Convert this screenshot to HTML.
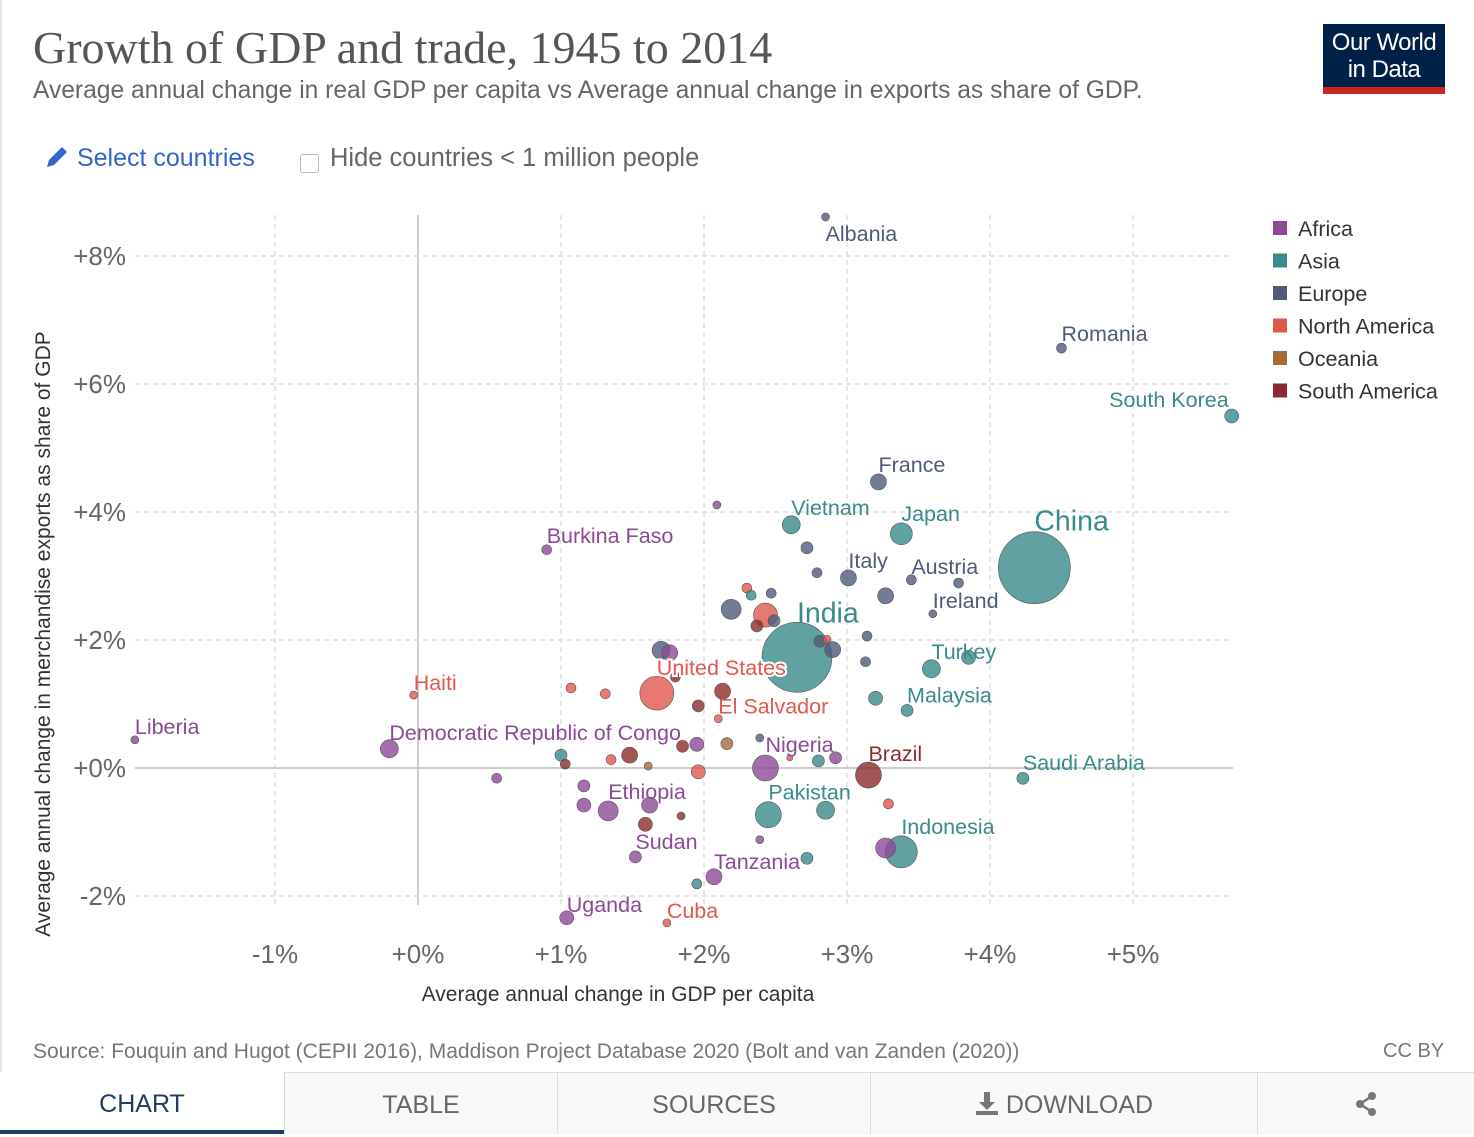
<!DOCTYPE html>
<html><head><meta charset="utf-8">
<style>
body{margin:0;width:1474px;height:1134px;background:#fff;font-family:"Liberation Sans",sans-serif;position:relative;overflow:hidden}
.abs{position:absolute}
.tab{position:absolute;top:1072px;height:62px;background:#f7f8fa;border-left:1px solid #ddd;border-top:1px solid #ddd;box-sizing:border-box;color:#666;font-size:25px;text-align:center;line-height:64px}
</style></head><body>
<div class="abs" style="left:0;top:0;width:2px;height:1134px;background:#e5e5e5"></div>
<div class="abs" style="left:33px;top:21px;font-family:'Liberation Serif',serif;font-size:46px;color:#555">Growth of GDP and trade, 1945 to 2014</div>
<div class="abs" style="left:33px;top:77px;font-size:24.6px;color:#666">Average annual change in real GDP per capita vs Average annual change in exports as share of GDP.</div>
<div class="abs" style="left:1323px;top:24px;width:122px;height:70px;background:#002147;color:#fff;font-size:24px;line-height:27px;text-align:center;box-sizing:border-box;padding-top:5px;letter-spacing:-0.5px">Our World<br>in Data<div style="position:absolute;left:0;bottom:0;width:122px;height:7px;background:#ce261e"></div></div>
<div class="abs" style="left:44px;top:144px;font-size:25px;color:#3366cc">
<svg width="26" height="26" viewBox="0 0 26 26" style="vertical-align:-4px"><path d="M3 23 L5 16 L18 3 L23 8 L10 21 Z" fill="#3366cc"/></svg> Select countries</div>
<div class="abs" style="left:300px;top:154px;width:17px;height:17px;border:1px solid #bbb;border-radius:3px;background:#fff"></div>
<div class="abs" style="left:330px;top:144px;font-size:25.5px;color:#666">Hide countries &lt; 1 million people</div>

<svg id="chart" class="abs" style="left:0;top:0" width="1474" height="1040"></svg>

<div class="abs" style="left:33px;top:1040px;font-size:21px;color:#777">Source: Fouquin and Hugot (CEPII 2016), Maddison Project Database 2020 (Bolt and van Zanden (2020))</div>
<div class="abs" style="left:1383px;top:1040px;font-size:20px;color:#777">CC BY</div>
<div class="tab" style="left:0;width:284px;background:#fff;color:#1d3d63;border-left:none;border-top:none;border-bottom:4px solid #1d3d63">CHART</div>
<div class="tab" style="left:284px;width:273px">TABLE</div>
<div class="tab" style="left:557px;width:313px">SOURCES</div>
<div class="tab" style="left:870px;width:387px"><svg width="24" height="26" viewBox="0 0 24 26" style="vertical-align:-3px"><path d="M9 2h6v10h5l-8 8-8-8h5z" fill="#777"/><rect x="1" y="21" width="22" height="4" fill="#777"/></svg> DOWNLOAD</div>
<div class="tab" style="left:1257px;width:217px"><svg width="26" height="26" viewBox="0 0 26 26" style="vertical-align:-4px"><circle cx="19" cy="5" r="4" fill="#777"/><circle cx="7" cy="13" r="4" fill="#777"/><circle cx="19" cy="21" r="4" fill="#777"/><path d="M19 5 L7 13 L19 21" stroke="#777" stroke-width="2.5" fill="none"/></svg></div>

<script>
const xTicks=[-1,0,1,2,3,4,5];
const yTicks=[-2,0,2,4,6,8];
const regions=["Africa","Asia","Europe","North America","Oceania","South America"];
const regionColors=["#8c4a96","#3a8a8a","#4f5b7c","#e0584e","#a5693a","#8b2c2c"];
const names=["Albania","Romania","South Korea","France","Vietnam","Japan","China","Italy","Austria","Ireland","Burkina Faso","India","Turkey","","Malaysia","","United States","Haiti","Liberia","Democratic Republic of Congo","El Salvador","Nigeria","Brazil","Saudi Arabia","Pakistan","","Ethiopia","","Indonesia","","Sudan","Tanzania","Uganda","Cuba",
"","","","","","","","","","","","","","","","","","","","","","","","","","","","","","","","","","","","","","","","","","","","","","",""];
const gdp=[2.85,4.50,5.69,3.22,2.61,3.38,4.31,3.01,3.45,3.60,0.90,2.65,3.59,3.85,3.42,3.20,1.67,-0.03,-1.98,-0.20,2.10,2.43,3.15,4.23,2.45,2.85,1.33,1.62,3.38,3.27,1.52,2.07,1.04,1.74,
2.09,2.72,2.79,2.30,2.33,2.47,2.19,2.43,2.49,2.37,3.27,3.78,3.14,2.86,2.81,2.90,3.13,1.70,1.76,1.80,1.07,1.31,2.13,1.96,2.16,2.39,1.95,1.85,1.48,1.35,1.00,1.03,1.61,1.96,2.60,2.80,2.92,0.55,1.16,1.16,1.59,1.84,2.39,2.72,1.95,3.29];
const exports_=[8.61,6.56,5.50,4.47,3.80,3.66,3.13,2.97,2.94,2.41,3.41,1.73,1.55,1.73,0.90,1.09,1.17,1.14,0.44,0.30,0.77,0.00,-0.11,-0.16,-0.73,-0.66,-0.67,-0.58,-1.31,-1.25,-1.39,-1.70,-2.34,-2.42,
4.11,3.44,3.05,2.81,2.70,2.73,2.48,2.39,2.30,2.22,2.69,2.89,2.06,2.01,1.98,1.85,1.66,1.84,1.80,1.42,1.25,1.16,1.20,0.97,0.38,0.47,0.37,0.34,0.20,0.13,0.20,0.06,0.03,-0.06,0.16,0.11,0.16,-0.16,-0.28,-0.58,-0.88,-0.75,-1.12,-1.41,-1.81,-0.56];
const radius=[4,5,7,8,9,11,36,8,5,4,5,35,9,7,6,7,17,4,4,9,4,13,13,6,13,9,10,8,16,10,6,8,7,4,
4,6,5,5,5,5,10,12,6,6,8,5,5,4,6,8,5,9,8,5,5,5,8,6,6,4,7,6,8,5,6,5,4,7,3,6,6,5,6,7,7,4,4,6,5,5];
const regionIdx=[2,2,1,2,1,1,1,2,2,2,0,1,1,1,1,1,3,3,0,0,3,0,5,1,1,1,0,0,1,0,0,0,0,3,
0,2,2,3,1,2,2,3,2,5,2,2,2,3,2,2,2,2,0,5,3,3,5,5,4,2,0,5,5,3,1,5,4,3,3,1,0,0,0,0,5,5,0,1,1,3];
const labelDX=[0,0,-3,0,0,0,0,0,0,0,0,0,0,0,0,0,0,0,0,0,0,0,0,0,0,0,0,0,0,0,0,0,0,0];
const labelDY=[24,-7,-9,-10,-10,-13,-37,-10,-6,-6,-7,-35,-10,0,-8,0,-18,-5,-6,-9,-5,-16,-14,-8,-15,0,-12,0,-18,0,-8,-8,-6,-5];

const NS="http://www.w3.org/2000/svg";
const svg=document.getElementById("chart");
const X0=418, XS=143, Y0=768, YS=64;
const sx=v=>X0+v*XS, sy=v=>Y0-v*YS;
const L=135,R=1233,T=215,B=905;
function mk(tag,attrs,parent){const e=document.createElementNS(NS,tag);for(const k in attrs)e.setAttribute(k,attrs[k]);(parent||svg).appendChild(e);return e;}

xTicks.forEach(t=>{
  const l=mk("line",{x1:sx(t),x2:sx(t),y1:T,y2:B,stroke:t===0?"#ccc":"#ddd","stroke-width":t===0?2:1.5,"stroke-dasharray":t===0?"":"5,4"});
  
  
  const tx=mk("text",{x:sx(t),y:963,"text-anchor":"middle","font-size":26,fill:"#666"});
  tx.textContent=(t<0?"":"+")+t+"%";if(t<0)tx.textContent=t+"%";
  
  
});
yTicks.forEach(t=>{
  const l=mk("line",{x1:L,x2:R,y1:sy(t),y2:sy(t),stroke:t===0?"#ccc":"#ddd","stroke-width":t===0?2:1.5,"stroke-dasharray":t===0?"":"5,4"});
  
  
  const tx=mk("text",{x:126,y:sy(t)+9,"text-anchor":"end","font-size":26,fill:"#666"});
  tx.textContent=(t<0?"":"+")+t+"%";
  
  
});
const xt=mk("text",{x:618,y:1001,"text-anchor":"middle","font-size":21,fill:"#333"});
xt.textContent="Average annual change in GDP per capita";


const yt=mk("text",{x:0,y:0,"text-anchor":"middle","font-size":21,fill:"#333",transform:"translate(50,634) rotate(-90)"});
yt.textContent="Average annual change in merchandise exports as share of GDP";



const order=gdp.map((_,i)=>i).sort((a,b)=>radius[b]-radius[a]);
order.forEach(i=>{
  const c=mk("circle",{cx:sx(gdp[i]),cy:sy(exports_[i]),r:radius[i],fill:regionColors[regionIdx[i]],"fill-opacity":0.8,stroke:"#555","stroke-width":0.6});
  
  
});
names.forEach((n,i)=>{
  if(!n)return;
  const big=(n==="China"||n==="India");
  const anchor=n==="South Korea"?"end":"start";
  const t=mk("text",{x:sx(gdp[i])+labelDX[i],y:sy(exports_[i])+labelDY[i],"text-anchor":anchor,"font-size":big?28.5:21.5,fill:regionColors[regionIdx[i]],stroke:"#fff","stroke-width":n==="United States"?4:0,"paint-order":"stroke"});
  t.textContent=n;
  
  
});
regions.forEach((r,i)=>{
  const y=228+i*32.5;
  const s=mk("rect",{x:1273,y:y-7,width:14,height:14,fill:regionColors[i]});
  
  
  const t=mk("text",{x:1298,y:y+8,"font-size":21.5,fill:"#333"});
  t.textContent=r;
  
  
});
</script>
</body></html>
